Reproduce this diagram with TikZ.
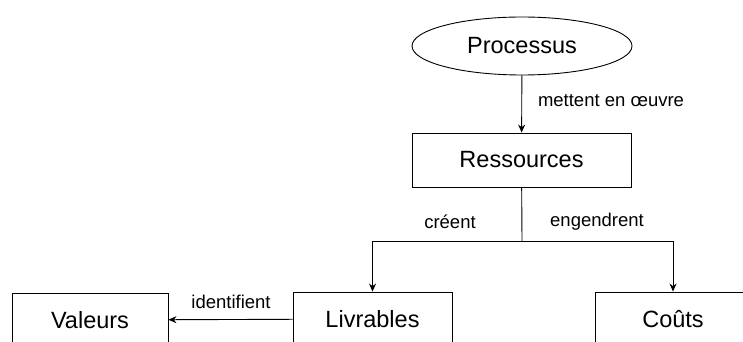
\documentclass[tikz,border=0pt]{standalone}
\usepackage{fontspec}
\setmainfont{Liberation Sans}
\usetikzlibrary{shapes.geometric,arrows.meta}
\begin{document}
\begin{tikzpicture}[x=1pt,y=-1pt,
  box/.style={draw,line width=0.9pt,minimum width=156pt,minimum height=54pt,inner sep=0pt,font=\fontsize{23.5}{28}\selectfont},
  oval/.style={draw,ellipse,line width=0.9pt,minimum width=220pt,minimum height=58pt,inner sep=0pt,font=\fontsize{23.5}{28}\selectfont},
  lab/.style={font=\fontsize{18.5}{22}\selectfont,inner sep=0pt},
  conn/.style={line width=0.9pt},
  arr/.style={conn,-{Stealth[length=8pt,width=7pt]}}]
\useasboundingbox (0,0) rectangle (743,342);
\clip (0,0) rectangle (743,342);
\node[oval] (proc) at (522,46) {Processus};
\node[box,minimum width=219pt] (res) at (521.5,160) {Ressources};
\node[box,minimum width=159pt] (liv) at (372.5,319) {Livrables};
\node[box] (val) at (90,320) {Valeurs};
\node[box] (cou) at (673,319) {Coûts};
\coordinate (j) at (522,241);
\draw[arr] (proc) -- (res);
\draw[conn] (res) -- (j);
\draw[arr] (j) -| (liv);
\draw[arr] (j) -| (cou);
\draw[arr] (liv) -- (val);
\node[lab] (l1) at (611,101) {mettent en œuvre};
\node[lab] (l2) at (450,222) {créent};
\node[lab] (l3) at (597,222) {engendrent};
\node[lab] (l4) at (231,302) {identifient};
\end{tikzpicture}
\end{document}
